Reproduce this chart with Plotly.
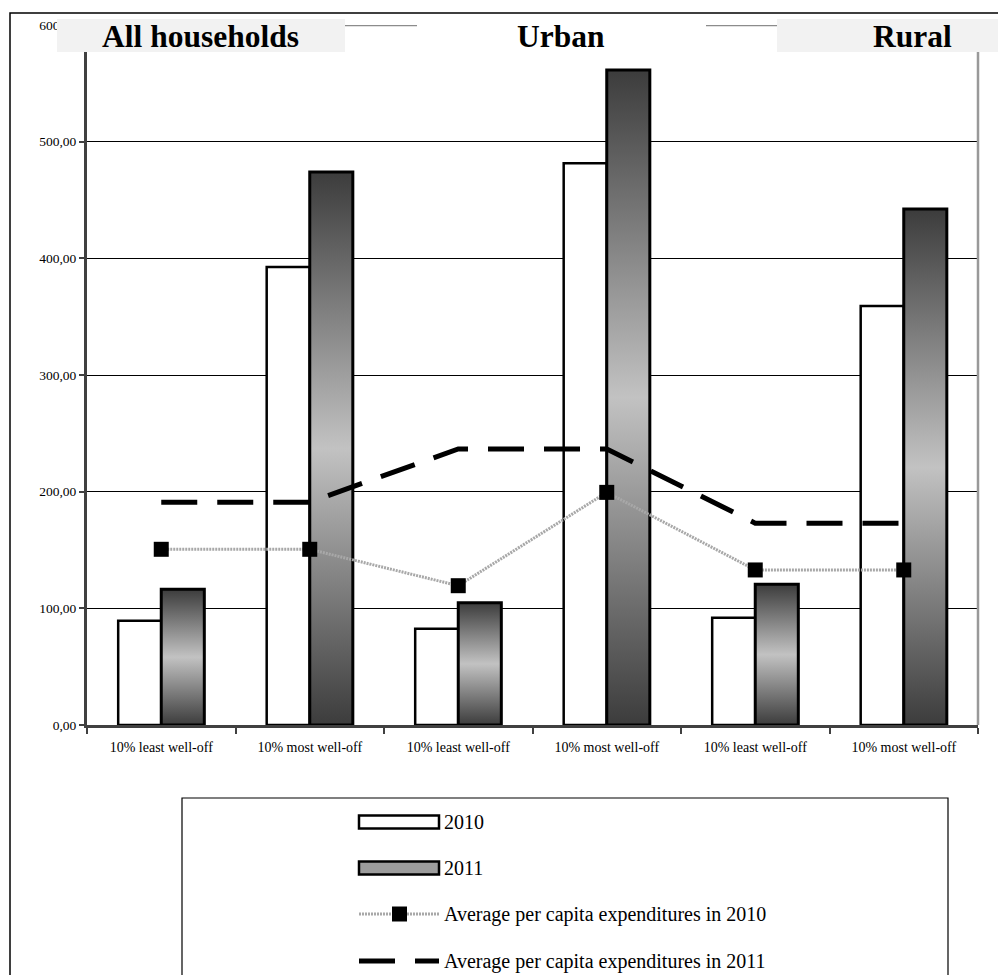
import plotly.graph_objects as go

# ---- data -------------------------------------------------------------
categories = [
    "10% least well-off", "10% most well-off",
    "10% least well-off", "10% most well-off",
    "10% least well-off", "10% most well-off",
]
groups = ["All households", "Urban", "Rural"]
exp_2010 = [89.4, 392.6, 82.6, 481.4, 92.0, 359.1]
exp_2011 = [116.3, 474.0, 104.8, 561.4, 120.6, 442.3]
avg_2010 = [150.6, 150.6, 119.4, 199.4, 132.9, 132.9]
avg_2011 = [191.0, 191.0, 236.6, 236.6, 173.0, 173.0]
y_ticks = [0, 100, 200, 300, 400, 500, 600]
y_tick_text = ["0,00", "100,00", "200,00", "300,00", "400,00", "500,00", "600,00"]
legend_labels = ["2010", "2011",
                 "Average per capita expenditures in 2010",
                 "Average per capita expenditures in 2011"]

# ---- geometry / style ---------------------------------------------------
FIG_W, FIG_H = 998, 975
ML, MR, MT, MB = 87, 20, 25, 250
PW, PH = FIG_W - ML - MR, FIG_H - MT - MB
BAR_W = 0.29
SERIF = "Liberation Serif, Times New Roman, serif"
GRAD = [[0.0, "#3c3c3c"], [0.5, "#c2c2c2"], [1.0, "#3c3c3c"]]
AVG10_COLOR = "#a8a8a8"


def px_x(p):
    return (p - ML) / PW


def px_y(p):
    return (FIG_H - MB - p) / PH


idx = list(range(len(categories)))
fig = go.Figure()

# 2010 bars (left of each category centre)
fig.add_trace(go.Bar(
    x=idx, y=exp_2010, width=BAR_W, offset=-BAR_W,
    marker=dict(color="white", line=dict(color="black", width=2.5)),
    name="2010", hoverinfo="y",
))

# 2011 bars with a vertical dark-light-dark gradient
for i, h in zip(idx, exp_2011):
    x0, x1 = i, i + BAR_W
    fig.add_trace(go.Scatter(
        x=[x0, x0, x1, x1, x0], y=[0, h, h, 0, 0],
        mode="lines", fill="toself",
        fillgradient=dict(type="vertical", colorscale=GRAD),
        line=dict(color="black", width=3),
        name="2011", hoverinfo="skip", showlegend=False,
    ))

# average per capita expenditures
fig.add_trace(go.Scatter(
    x=idx, y=avg_2010, mode="lines+markers",
    line=dict(color=AVG10_COLOR, width=3, dash="2px,1px"),
    marker=dict(symbol="square", size=15, color="black"),
    name=legend_labels[2],
))
fig.add_trace(go.Scatter(
    x=idx, y=avg_2011, mode="lines",
    line=dict(color="black", width=5, dash="36px,20px"),
    name=legend_labels[3],
))

shapes = []
annotations = []

# outer frame
shapes.append(dict(type="rect", xref="paper", yref="paper",
                   x0=px_x(10), x1=px_x(1010), y0=px_y(13), y1=px_y(1010),
                   line=dict(color="black", width=1.5), layer="above"))
# top and right border of the plot area
shapes.append(dict(type="line", xref="paper", yref="y", x0=0, x1=1, y0=600, y1=600,
                   line=dict(color="#8c8c8c", width=2.5), layer="above"))
shapes.append(dict(type="line", xref="paper", yref="paper", x0=1, x1=1, y0=0, y1=1,
                   line=dict(color="#999999", width=2.5), layer="above"))

# group header boxes
header_boxes = [(57, 345, "#f2f2f2"), (417, 706, "white"), (777, 1000, "#f2f2f2")]
header_centres = [200, 561, 912]
for (bx0, bx1, col), cx, name in zip(header_boxes, header_centres, groups):
    shapes.append(dict(type="rect", xref="paper", yref="paper",
                       x0=px_x(bx0), x1=px_x(bx1), y0=px_y(19), y1=px_y(52),
                       fillcolor=col, line=dict(width=0), layer="above"))
    annotations.append(dict(xref="paper", yref="paper", x=px_x(cx), y=px_y(37),
                            xanchor="center", yanchor="middle", showarrow=False,
                            text=name,
                            font=dict(family=SERIF, size=31.5, color="black",
                                      weight="bold")))

# legend box
shapes.append(dict(type="rect", xref="paper", yref="paper",
                   x0=px_x(182), x1=px_x(948), y0=px_y(798), y1=px_y(1010),
                   line=dict(color="black", width=1.2), fillcolor="white", layer="above"))
SW0, SW1 = 359, 439
rows = [822, 868, 914, 961]
shapes.append(dict(type="rect", xref="paper", yref="paper",
                   x0=px_x(SW0), x1=px_x(SW1), y0=px_y(rows[0] - 6.5), y1=px_y(rows[0] + 6.5),
                   fillcolor="white", line=dict(color="black", width=2.5), layer="above"))
shapes.append(dict(type="rect", xref="paper", yref="paper",
                   x0=px_x(SW0), x1=px_x(SW1), y0=px_y(rows[1] - 6.5), y1=px_y(rows[1] + 6.5),
                   fillcolor="#9c9c9c", line=dict(color="black", width=2.5), layer="above"))
shapes.append(dict(type="line", xref="paper", yref="paper",
                   x0=px_x(SW0), x1=px_x(SW1), y0=px_y(rows[2]), y1=px_y(rows[2]),
                   line=dict(color=AVG10_COLOR, width=3, dash="2px,1px"), layer="above"))
shapes.append(dict(type="rect", xref="paper", yref="paper",
                   x0=px_x(392), x1=px_x(407), y0=px_y(rows[2] - 7.5), y1=px_y(rows[2] + 7.5),
                   fillcolor="black", line=dict(width=0), layer="above"))
shapes.append(dict(type="line", xref="paper", yref="paper",
                   x0=px_x(SW0), x1=px_x(SW1), y0=px_y(rows[3]), y1=px_y(rows[3]),
                   line=dict(color="black", width=5, dash="36px,20px"), layer="above"))
for label, ry in zip(legend_labels, rows):
    annotations.append(dict(xref="paper", yref="paper", x=px_x(442), y=px_y(ry),
                            xanchor="left", yanchor="middle", showarrow=False,
                            text=label, font=dict(family=SERIF, size=20, color="black")))

fig.update_layout(
    width=FIG_W, height=FIG_H,
    margin=dict(l=ML, r=MR, t=MT, b=MB, pad=0),
    paper_bgcolor="white", plot_bgcolor="white",
    showlegend=False,
    shapes=shapes, annotations=annotations,
    xaxis=dict(
        range=[-0.5, len(categories) - 0.5],
        tickmode="array", tickvals=idx, ticktext=categories,
        ticks="", ticklabelstandoff=7,
        tickfont=dict(family=SERIF, size=14, color="black"),
        showline=True, linecolor="#404040", linewidth=3,
        showgrid=False, zeroline=False,
        minor=dict(tickmode="array",
                   tickvals=[i - 0.5 for i in range(len(categories) + 1)],
                   ticks="outside", ticklen=6, tickcolor="#404040", tickwidth=1.5,
                   showgrid=False),
    ),
    yaxis=dict(
        range=[0, 600],
        tickmode="array", tickvals=y_ticks, ticktext=y_tick_text,
        ticks="outside", ticklen=5, tickcolor="#404040", tickwidth=1.5,
        ticklabelstandoff=0,
        tickfont=dict(family=SERIF, size=13.5, color="black"),
        showgrid=True, gridcolor="black", gridwidth=1,
        showline=True, linecolor="#404040", linewidth=3,
        zeroline=False,
    ),
)

fig.write_html("out.html")
